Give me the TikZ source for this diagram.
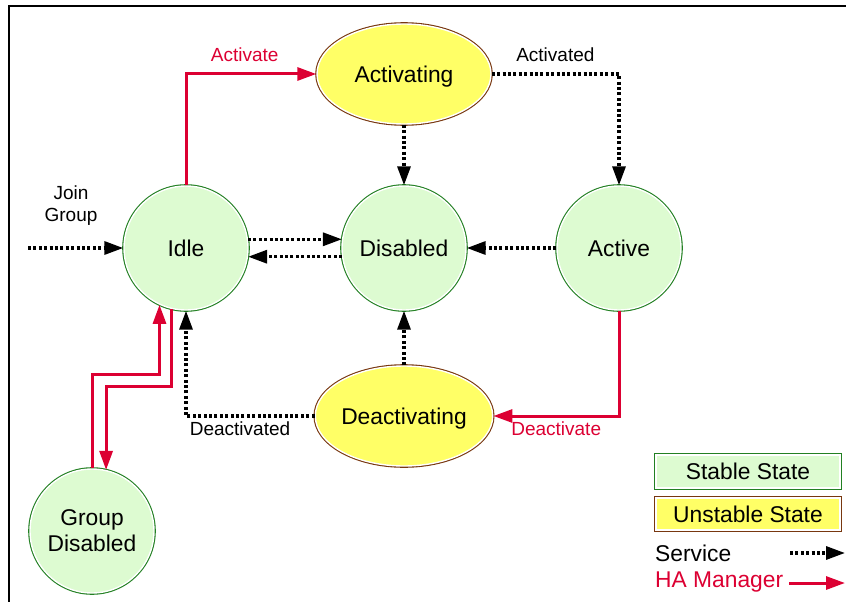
\documentclass[tikz,border=0pt]{standalone}
\usepackage{fontspec}
\setmainfont{Liberation Sans}
\usepackage{tikz}
\usetikzlibrary{arrows.meta,shapes.geometric}

\definecolor{stablefill}{RGB}{221,251,209}
\definecolor{stableline}{RGB}{34,128,34}
\definecolor{unstablefill}{RGB}{255,255,102}
\definecolor{unstableline}{RGB}{120,55,15}
\definecolor{hared}{RGB}{220,0,50}

\begin{document}
\begin{tikzpicture}[x=1pt, y=-1pt,
    stable/.style = {shape=circle, minimum size=124pt, inner sep=0pt, align=center,
        fill=stablefill, draw=white, line width=1.4pt,
        preaction={draw=stableline, line width=3.6pt},
        font=\fontsize{22.8}{26}\selectfont},
    unstable/.style = {shape=ellipse, minimum width=174pt, minimum height=100pt, inner sep=0pt,
        fill=unstablefill, draw=white, line width=1.4pt, text depth=0pt,
        preaction={draw=unstableline, line width=3.6pt},
        font=\fontsize{22.8}{26}\selectfont},
    stablekey/.style = {stable, shape=rectangle, minimum size=0pt, minimum width=184pt, minimum height=33pt},
    unstablekey/.style = {unstable, shape=rectangle, minimum width=184pt, minimum height=32pt},
    keytext/.style = {anchor=west, inner sep=0pt, font=\fontsize{22.8}{26}\selectfont},
    lbl/.style = {font=\fontsize{19}{22}\selectfont, inner sep=3pt},
    svc/.style = {draw=black, line width=3.2pt, dash pattern=on 3pt off 2.4pt,
        -{Triangle[length=19pt,width=13pt]}},
    mgr/.style = {draw=hared, line width=3pt, -{Triangle[length=19pt,width=13pt]}}]
    \useasboundingbox (0,0) rectangle (846,602);
    \draw[line width=1.3pt] (9,602) -- (9,6) -- (846,6);

    % states
    \node[stable] (idle) at (186,248) {Idle};
    \node[stable] (disabled) at (404,248) {Disabled};
    \node[stable] (active) at (619,248) {Active};
    \node[stable] (groupdis) at (92,531) {Group\\Disabled};
    \node[unstable] (activating) at (404,74) {Activating};
    \node[unstable] (deactivating) at (404,416) {Deactivating};

    % service transitions
    \coordinate (join) at (28,248);
    \node[lbl, align=center] (joinlbl) at (71,206) {Join\\Group};
    \draw[svc] (join) -- (idle);
    \draw[svc] (activating.east) -| (active.north) node[lbl, pos=0.25, above=8pt] {Activated};
    \draw[svc] (activating) -- (disabled);
    \draw[svc] (idle.8) -- (disabled.172);
    \draw[svc] (disabled.188) -- (idle.352);
    \draw[svc] (active) -- (disabled);
    \draw[svc] (deactivating) -- (disabled);
    \draw[svc] (deactivating.west) -| (idle.south) node[lbl, pos=0.29, below=1pt] {Deactivated};

    % HA manager transitions
    \draw[mgr] (idle.north) |- (activating.west) node[lbl, text=hared, pos=0.725, above=8pt] {Activate};
    \draw[mgr] (active.south) |- (deactivating.east) node[lbl, text=hared, pos=0.75, below=1pt] {Deactivate};
    \coordinate (upbend) at (0,374);
    \coordinate (downbend) at (0,386);
    \draw[mgr] (groupdis.north) -- (groupdis.north |- upbend) -| (idle.245);
    \draw[mgr] (idle.257) -- (idle.257 |- downbend) -| (groupdis.77);

    % key
    \node[stablekey] (keystable) at (748,471.5) {Stable State};
    \node[unstablekey] (keyunstable) at (748,514) {Unstable State};
    \node[keytext] (keysvc) at (655,553) {Service};
    \node[keytext, text=hared] (keymgr) at (655,582) {HA Manager};
    \coordinate (svcfrom) at (790,553);
    \coordinate (svcto) at (845,553);
    \coordinate (mgrfrom) at (789,583);
    \coordinate (mgrto) at (845,583);
    \draw[svc] (svcfrom) -- (svcto);
    \draw[mgr] (mgrfrom) -- (mgrto);
\end{tikzpicture}
\end{document}
